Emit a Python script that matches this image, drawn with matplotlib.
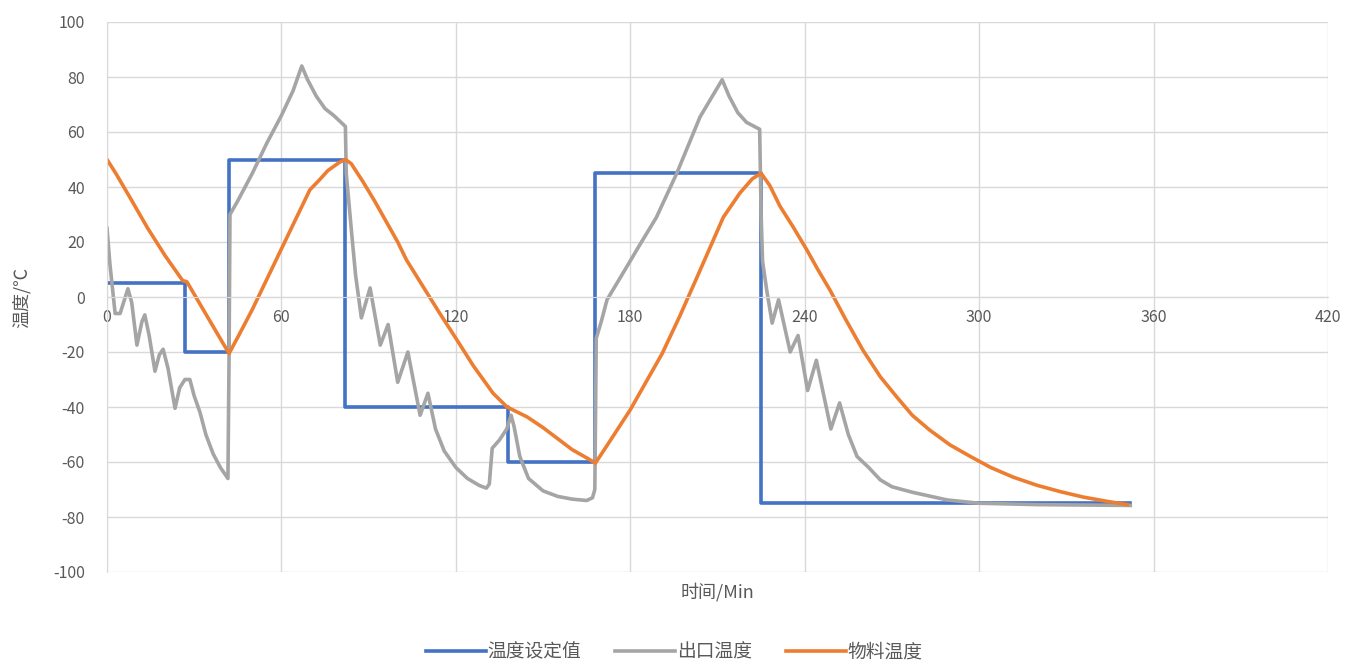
import numpy as np
import matplotlib
matplotlib.use("Agg")
import matplotlib.pyplot as plt

plt.rcParams['font.family'] = ['Noto Sans CJK SC', 'DejaVu Sans']
plt.rcParams['axes.unicode_minus'] = False

# setpoint steps (time, value)
sp_t = [0, 27, 42, 82, 138, 168, 225, 352]
sp_v = [5, -20, 50, -40, -60, 45, -75, -75]

# outlet temperature
out_t = [0, 1, 2.8, 4.5, 7.2, 8.5, 10.3, 12, 13, 14.5, 16.5, 18, 19.3, 21, 23.4, 25,
         26.8, 28.5, 30, 32, 34, 36.5, 39, 41.6, 42, 42.3, 45, 50, 55, 60, 64, 67,
         69, 72, 75, 78, 81.5, 82, 82.3, 84, 85.5, 87.5, 90.5, 94, 96.7, 100, 103.5,
         107.7, 110.4, 113, 116, 120, 124, 128, 130.5, 131.5, 132.5, 135, 137.5, 139,
         140, 142, 145, 150, 155, 160, 165, 167, 167.8, 168.3, 170, 172, 177.5, 183, 189,
         196, 204, 211.6, 214, 217, 220, 224.5, 225, 225.5, 227, 228.8,
         231, 235, 237.7, 241, 244, 249, 252, 255, 258, 262, 266, 270, 277, 289, 300,
         320, 352]
out_v = [25, 12, -6, -6, 3, -2, -17.5, -9, -6.5, -14, -27, -21, -19, -26, -40.5, -33,
         -30, -30, -36, -42, -50, -57, -62, -66, -20, 30, 35, 45, 56, 66, 75, 84,
         79, 73, 68.5, 66, 62.5, 62, 45, 25, 8, -7.6, 3.3, -17.5, -10, -31, -20,
         -43, -35, -48, -56, -62, -66, -68.5, -69.5, -68, -55, -52, -48, -43,
         -47, -58, -66, -70.5, -72.5, -73.5, -74, -73, -70, -15, -9, -1, 8.7, 18.5, 29,
         45, 65.5, 79, 73, 67, 63.5, 61, 30, 13, 2, -9.5,
         -1, -20, -14, -34, -23, -48, -38.5, -50, -58, -62, -66.5, -69, -71, -73.8, -75,
         -75.5, -75.8]

# material temperature
mat_t = [0, 3, 8, 14, 20, 26, 27.5, 30, 35, 40, 42, 45.8, 50, 56, 60, 65, 69.8, 73,
         76, 80, 82, 84, 88, 92, 96, 100, 103, 109, 114.5, 120, 126, 132.8, 137.6, 144.5,
         150, 155, 160, 165, 168, 172, 180, 191, 197, 203, 212, 217.7, 222, 225, 228,
         231.5, 236, 240.8, 244.5, 248.7, 254, 260, 266, 271.7, 277, 283, 290, 297,
         304, 311.7, 320, 328, 336, 344, 351]
mat_v = [50, 45, 36, 25, 15, 6, 5.5, 1, -8, -17, -20.5, -13, -4.5, 8.7, 17.5, 28.5, 39, 42.5,
         46, 49, 50, 48.5, 42, 35, 27.5, 20, 13.5, 3.3, -6, -15, -25, -35, -40, -43.6,
         -47.5, -51.5, -55.5, -58.5, -60.4, -54, -41, -20.5, -7, 7.3, 29, 37.8, 43, 45, 40.5,
         33, 25.5, 17, 10, 2.5, -8, -19.3, -29, -36.4, -43, -48.4, -53.8, -58,
         -62, -65.5, -68.5, -70.8, -72.8, -74.3, -75.5]

blue = '#4472C4'
grey = '#A5A5A5'
orange = '#ED7D31'
txt = '#595959'
gridc = '#D9D9D9'

fig = plt.figure(figsize=(13.61, 6.64), dpi=100)
ax = fig.add_axes([107 / 1361, 1 - 572 / 664, (1328 - 107) / 1361, 550 / 664])

ax.plot(sp_t, sp_v, drawstyle='steps-post', color=blue, lw=2.6, label='温度设定值')
ax.plot(out_t, out_v, color=grey, lw=2.6, label='出口温度')
ax.plot(mat_t, mat_v, color=orange, lw=2.6, label='物料温度')

ax.set_xlim(0, 420)
ax.set_ylim(-100, 100)
ax.set_xticks(np.arange(0, 421, 60))
ax.set_yticks(np.arange(-100, 101, 20))
ax.grid(True, color=gridc, lw=1)
ax.set_axisbelow(True)

for s in ['top', 'right']:
    ax.spines[s].set_visible(False)
ax.spines['left'].set_color(gridc)
ax.spines['bottom'].set_position(('data', 0))
ax.spines['bottom'].set_color(gridc)
ax.tick_params(length=0, colors=txt, labelsize=11.5)
ax.tick_params(axis='x', pad=9)
ax.tick_params(axis='y', pad=16)

fig.text(717 / 1361, 1 - 592 / 664, '时间/Min', ha='center', va='center',
         fontsize=13, color=txt)
fig.text(22 / 1361, 1 - 297 / 664, '温度/℃', ha='center', va='center',
         rotation=90, fontsize=13, color=txt)

fig.legend(loc='center', bbox_to_anchor=(674 / 1361, 1 - 652 / 664), ncol=3,
           frameon=False, fontsize=13.5, handlelength=3.2, columnspacing=1.8,
           handletextpad=0.1, labelcolor=txt)

fig.savefig('out.png', dpi=100)
